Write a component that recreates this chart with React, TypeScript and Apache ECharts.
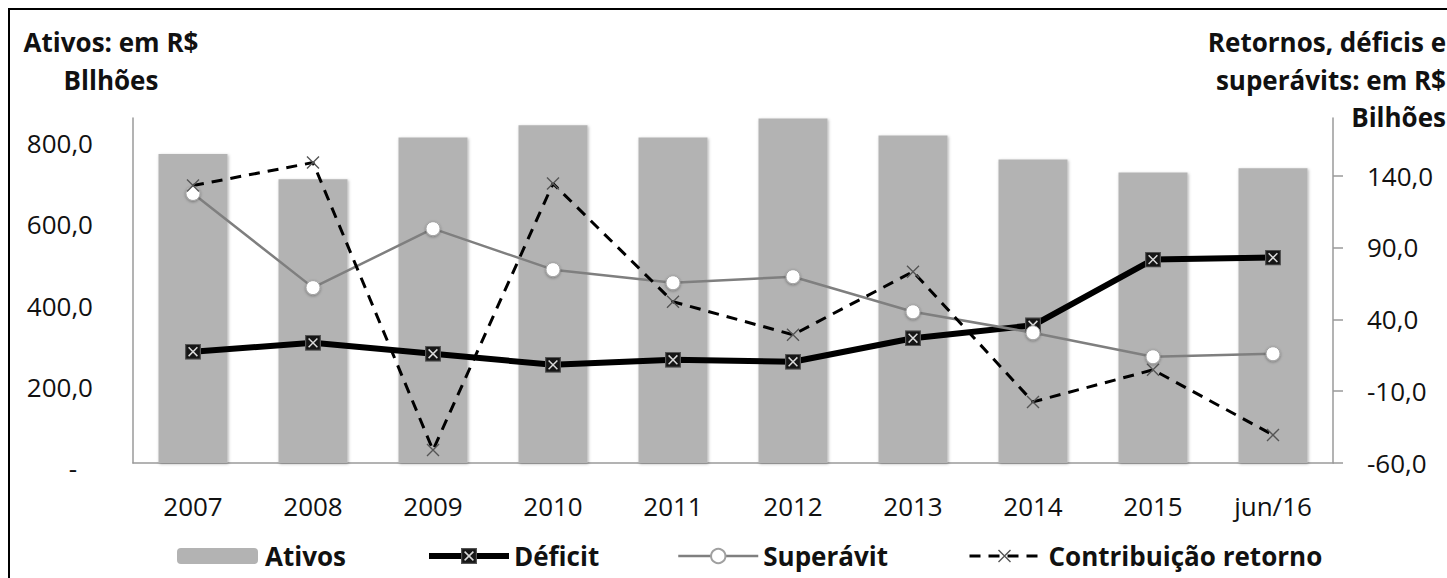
import React, { useEffect, useRef } from 'react';
import * as echarts from 'echarts';

const categories = ['2007', '2008', '2009', '2010', '2011', '2012', '2013', '2014', '2015', 'jun/16'];
const ativos = [761, 699, 802, 832, 802, 849, 807, 748, 716, 726];
const deficit = [17.4, 23.6, 16.0, 8.3, 11.8, 10.4, 26.8, 35.8, 81.5, 82.9];
const superavit = [127.5, 62.0, 103.0, 74.5, 65.4, 69.6, 45.2, 30.6, 13.9, 16.0];
const contribuicao = [133.0, 149.0, -51.0, 134.4, 52.2, 29.2, 73.1, -17.5, 4.8, -40.5];
const leftTicks = [0, 200, 400, 600, 800];
const rightTicks = [-60, -10, 40, 90, 140];

const FONT = '"Open Sans", sans-serif';
const fmt = (v: number) => v.toFixed(1).replace('.', ',');

const svgUri = (s: string) => 'image://data:image/svg+xml;charset=utf-8,' + encodeURIComponent(s);
const squareX = svgUri(
  "<svg xmlns='http://www.w3.org/2000/svg' width='32' height='32' viewBox='0 0 16 16'>" +
    "<rect x='0.6' y='0.6' width='14.8' height='14.8' fill='#161616' stroke='#555' stroke-width='1.2'/>" +
    "<path d='M3.6 3.6 L12.4 12.4 M12.4 3.6 L3.6 12.4' stroke='#d8d8d8' stroke-width='1.5'/></svg>"
);
const crossX = svgUri(
  "<svg xmlns='http://www.w3.org/2000/svg' width='32' height='32' viewBox='0 0 16 16'>" +
    "<path d='M2 2 L14 14 M14 2 L2 14' stroke='#555' stroke-width='1.4'/></svg>"
);

export default function App() {
  const ref = useRef<HTMLDivElement>(null);
  useEffect(() => {
    if (!ref.current) return;
    const chart = echarts.init(ref.current, undefined, { renderer: 'svg' });
    const titleStyle = { fontFamily: FONT, fontSize: 26, fontWeight: 'bold', fill: '#111' } as any;
    const legText = { fontFamily: FONT, fontSize: 26, fontWeight: 'bold', color: '#111', lineHeight: 30 };
    chart.setOption({
      animation: false,
      textStyle: { fontFamily: FONT },
      grid: { left: 123, right: 114, top: 108, bottom: 115 },
      legend: [
        {
          data: ['Ativos'], left: 162, top: 528, itemWidth: 81, itemHeight: 16,
          textStyle: { ...legText, lineHeight: 26, padding: [0, 0, 0, 2] },
        },
        {
          data: ['Déficit'], left: 411, top: 526, itemWidth: 80, itemHeight: 20,
          lineStyle: { width: 6, color: '#000', type: 'solid' },
          textStyle: { ...legText },
        },
        {
          data: ['Superávit'], left: 662, top: 526, itemWidth: 80, itemHeight: 18,
          lineStyle: { width: 2.5, color: '#7f7f7f', type: 'solid' },
          textStyle: { ...legText },
        },
        {
          data: ['Contribuição retorno'], left: 953, top: 526, itemWidth: 70, itemHeight: 20,
          lineStyle: { width: 3, color: '#000', type: [11, 8] },
          textStyle: { ...legText, padding: [0, 0, 0, 4] },
        },
      ],
      xAxis: {
        type: 'category',
        data: categories,
        axisLine: { lineStyle: { color: '#9a9a9a', width: 1.5 } },
        axisTick: { show: false },
        axisLabel: { fontFamily: FONT, fontSize: 26, color: '#111', margin: 30, lineHeight: 26 },
      },
      yAxis: [
        {
          type: 'value', min: 0, max: 850, position: 'left',
          axisLine: { show: true, lineStyle: { color: '#9a9a9a', width: 1.5 } },
          axisTick: { show: false },
          splitLine: { show: false },
          axisLabel: {
            customValues: leftTicks,
            fontFamily: FONT, fontSize: 26, color: '#111', margin: 40,
            padding: [10, 0, 0, 0],
            formatter: (v: number) => (v === 0 ? '{z|-}' : fmt(v)),
            rich: { z: { fontFamily: FONT, fontSize: 26, color: '#111', padding: [0, 16, 0, 0] } },
          },
        },
        {
          type: 'value', min: -60, max: 180, position: 'right',
          axisLine: { show: true, lineStyle: { color: '#9a9a9a', width: 1.5 } },
          axisTick: { show: true, customValues: rightTicks, length: 10, lineStyle: { color: '#9a9a9a', width: 1.5 } },
          splitLine: { show: false },
          axisLabel: {
            customValues: rightTicks,
            fontFamily: FONT, fontSize: 26, color: '#111', margin: 34,
            padding: [12, 0, 0, 0],
            formatter: (v: number) => fmt(v),
          },
        },
      ],
      series: [
        {
          name: 'Ativos', type: 'bar', data: ativos, yAxisIndex: 0, barWidth: 69,
          itemStyle: { color: '#b3b3b3', shadowBlur: 3, shadowColor: 'rgba(0,0,0,0.3)', shadowOffsetX: 1, shadowOffsetY: 1 },
        },
        {
          name: 'Déficit', type: 'line', data: deficit, yAxisIndex: 1,
          symbol: squareX, symbolSize: 16,
          lineStyle: { color: '#000', width: 6 },
          itemStyle: { color: '#000' },
        },
        {
          name: 'Superávit', type: 'line', data: superavit, yAxisIndex: 1,
          symbol: 'circle', symbolSize: 14,
          lineStyle: { color: '#7f7f7f', width: 2.5 },
          itemStyle: { color: '#fff', borderColor: '#a0a0a0', borderWidth: 1, shadowBlur: 3, shadowColor: 'rgba(0,0,0,0.35)', shadowOffsetY: 1 },
        },
        {
          name: 'Contribuição retorno', type: 'line', data: contribuicao, yAxisIndex: 1,
          symbol: crossX, symbolSize: 16,
          lineStyle: { color: '#000', width: 3, type: [11, 8] },
          itemStyle: { color: '#555' },
        },
      ],
      graphic: [
        { type: 'text', x: 101, y: 32, style: { ...titleStyle, text: 'Ativos: em R$', align: 'center', verticalAlign: 'middle' } },
        { type: 'text', x: 101, y: 70, style: { ...titleStyle, text: 'Bllhões', align: 'center', verticalAlign: 'middle' } },
        { type: 'text', x: 1436, y: 32, style: { ...titleStyle, text: 'Retornos, déficis e', align: 'right', verticalAlign: 'middle' } },
        { type: 'text', x: 1436, y: 70, style: { ...titleStyle, text: 'superávits: em R$', align: 'right', verticalAlign: 'middle' } },
        { type: 'text', x: 1436, y: 107, style: { ...titleStyle, text: 'Bilhões', align: 'right', verticalAlign: 'middle' } },
      ],
    });
    return () => chart.dispose();
  }, []);

  return (
    <div
      style={{
        position: 'absolute', left: 8, top: 8, width: 1439, height: 570,
        borderTop: '2px solid #000', borderLeft: '2px solid #000',
        boxSizing: 'border-box', overflow: 'hidden', background: '#fff',
      }}
    >
      <div ref={ref} style={{ width: 1437, height: 568 }} />
    </div>
  );
}
